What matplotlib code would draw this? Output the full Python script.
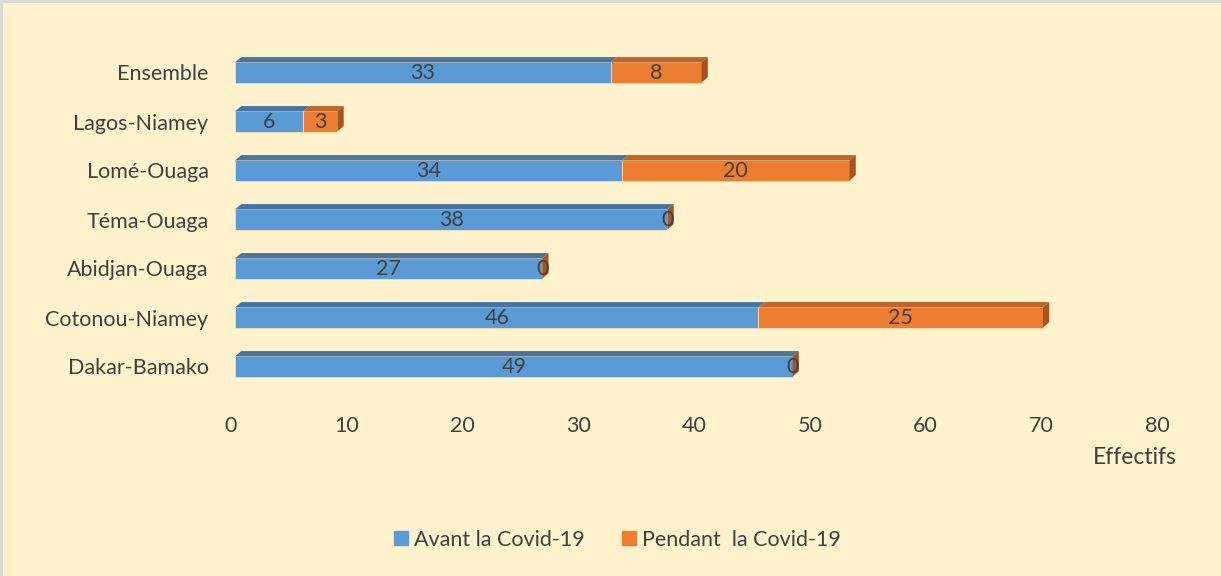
import matplotlib
matplotlib.use("Agg")
import matplotlib.pyplot as plt
from matplotlib.patches import Polygon, Rectangle
from matplotlib.lines import Line2D

# Data
categories = ["Dakar-Bamako", "Cotonou-Niamey", "Abidjan-Ouaga", "Téma-Ouaga",
              "Lomé-Ouaga", "Lagos-Niamey", "Ensemble"]
avant = [49, 46, 27, 38, 34, 6, 33]
pendant = [0, 25, 0, 0, 20, 3, 8]
series_names = ["Avant la Covid-19", "Pendant  la Covid-19"]
x_ticks = [0, 10, 20, 30, 40, 50, 60, 70, 80]
x_label = "Effectifs"

# Styling
W, H = 1221, 576
BG = "#FFF2CC"
TXT = "#404040"
FONT = ["Lato", "DejaVu Sans"]
FS = 15.5
front = ["#5B9BD5", "#ED7D31"]
top = ["#4775A3", "#C0652A"]
side = ["#3F6E99", "#A5541F"]
bar_h = 0.41
dx, dy = 0.55, 0.11   # depth of the 3D bars (data units)

plt.rcParams["font.family"] = FONT
fig = plt.figure(figsize=(W / 100, H / 100), dpi=100, facecolor=BG)

# Main axes holding the bars
px_per_unit = 11.38
ax = fig.add_axes([235 / W, 1 - 391 / H, 80 * px_per_unit / W, 343 / H])
ax.set_facecolor("none")
ax.set_xlim(0, 80)
ax.set_ylim(-0.5, len(categories) - 0.5)
for s in ax.spines.values():
    s.set_visible(False)
ax.set_xticks([])
ax.set_yticks(range(len(categories)))
ax.set_yticklabels(categories, fontsize=FS, color=TXT)
ax.tick_params(axis="y", length=0, pad=19)

for i, (a, p) in enumerate(zip(avant, pendant)):
    y0, y1 = i - bar_h / 2, i + bar_h / 2
    segs = [(0, a, 0), (a, a + p, 1)]
    for x0, x1, k in segs:
        if x1 > x0:
            ax.add_patch(Rectangle((x0, y0), x1 - x0, bar_h, facecolor=front[k],
                                   edgecolor="#F5DDB0", linewidth=0.6, zorder=3))
            ax.add_patch(Polygon([(x0, y1), (x1, y1), (x1 + dx, y1 + dy), (x0 + dx, y1 + dy)],
                                 closed=True, facecolor=top[k], edgecolor="none", zorder=3))
    # right side face (belongs to the last segment)
    xe = a + p
    ax.add_patch(Polygon([(xe, y0), (xe + dx, y0 + dy), (xe + dx, y1 + dy), (xe, y1)],
                         closed=True, facecolor=side[1], edgecolor="none", zorder=3))
    # value labels
    ax.text(a / 2, i - 0.02, str(a), ha="center", va="center", fontsize=FS, color=TXT, zorder=4)
    ax.text(a + p / 2, i - 0.02, str(p), ha="center", va="center", fontsize=FS, color=TXT, zorder=4)

# Value axis labels
axt = fig.add_axes([231 / W, 1 - 412 / H, 926 / W, 0.0005])
axt.set_facecolor("none")
for s in axt.spines.values():
    s.set_visible(False)
axt.set_xlim(0, 80)
axt.set_xticks(x_ticks)
axt.set_xticklabels([str(t) for t in x_ticks], fontsize=FS, color=TXT)
axt.tick_params(axis="x", length=0, pad=3)
axt.set_yticks([])

fig.text(1135 / W, 1 - 458 / H, x_label, ha="center", va="center", fontsize=16.5, color=TXT)

# Legend
handles = [Line2D([], [], marker="s", linestyle="none", markersize=10,
                  markerfacecolor=c, markeredgecolor=c) for c in front]
fig.legend(handles, series_names, loc="center", bbox_to_anchor=(616 / W, 1 - 540 / H),
           ncol=2, frameon=False, fontsize=FS, labelcolor=TXT, handletextpad=0.15,
           columnspacing=1.6, handlelength=0.9)

# thin frame lines along the top and left edges
fig.add_artist(Line2D([0, 1], [1 - 1 / H, 1 - 1 / H], transform=fig.transFigure,
                      color="#D9D9D9", linewidth=2))
fig.add_artist(Line2D([1 / W, 1 / W], [0, 1], transform=fig.transFigure,
                      color="#D9D9D9", linewidth=2))

fig.savefig("out.png", dpi=100, facecolor=BG)
